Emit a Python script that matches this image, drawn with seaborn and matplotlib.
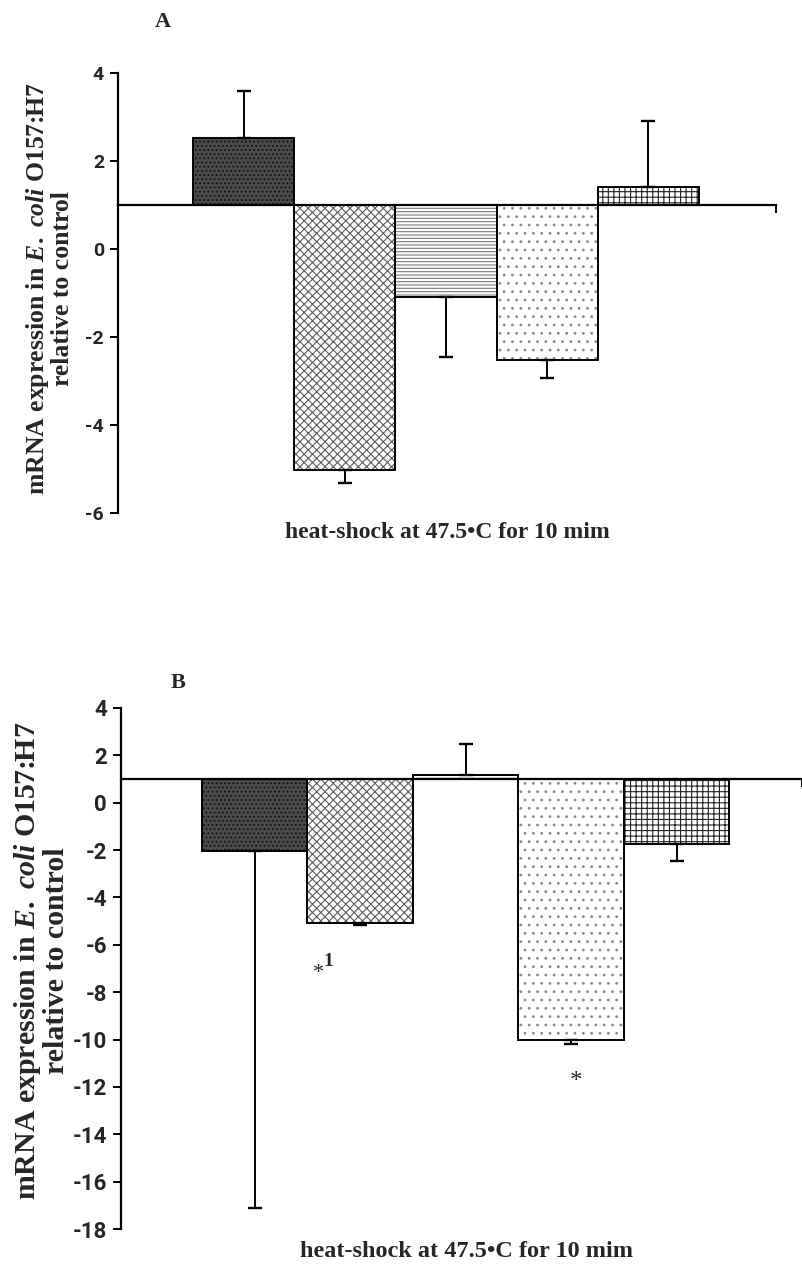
import numpy as np
import pandas as pd
import matplotlib
matplotlib.use("Agg")
import matplotlib.pyplot as plt
import seaborn as sns

# ---- data -------------------------------------------------------------
genes = ["Gene 1", "Gene 2", "Gene 3", "Gene 4", "Gene 5"]
baseline = 1.0

expr_a = [2.52, -5.02, -1.09, -2.52, 1.40]
err_a = [1.07, 0.30, 1.36, 0.41, 1.50]
yticks_a = [4, 2, 0, -2, -4, -6]

expr_b = [-2.03, -5.08, 1.15, -10.02, -1.73]
err_b = [15.10, 0.08, 1.31, 0.18, 0.72]
yticks_b = [4, 2, 0, -2, -4, -6, -8, -10, -12, -14, -16, -18]

# ---- styling ----------------------------------------------------------
face_colors = ["#4a4a4a", "#ffffff", "#ffffff", "#ffffff", "#ffffff"]
hatch_colors = ["#111111", "#5e5e5e", "#7a7a7a", "#8a8a8a", "#222222"]
hatches = ["....", "xxxx", "-----", "..", "+++"]

sns.set_theme(style="white")
plt.rcParams["hatch.linewidth"] = 0.8
plt.rcParams["font.family"] = ["Roboto", "DejaVu Sans"]
plt.rcParams["mathtext.fontset"] = "custom"
plt.rcParams["mathtext.rm"] = "Liberation Serif:bold"
plt.rcParams["mathtext.it"] = "Liberation Serif:italic:bold"
plt.rcParams["mathtext.bf"] = "Liberation Serif:bold"

SERIF = ["Liberation Serif", "DejaVu Serif"]
TICKFONT = ["Roboto", "DejaVu Sans"]

fig = plt.figure(figsize=(8.02, 12.66), dpi=100)
ax_a = fig.add_axes([118 / 802, 1 - 513 / 1266, 658 / 802, 440 / 1266])
ax_b = fig.add_axes([121 / 802, 1 - 1229 / 1266, 681 / 802, 521 / 1266])


def draw_panel(ax, values, errors, yticks, xlim, tick_size, label_size, xlabel_size):
    df = pd.DataFrame({"gene": genes, "value": values})
    df["height"] = df["value"] - baseline
    palette = dict(zip(genes, face_colors))

    # patterned fill
    sns.barplot(data=df, x="gene", y="height", hue="gene", palette=palette,
                saturation=1, width=1, bottom=baseline, errorbar=None,
                legend=False, ax=ax, zorder=2)
    for patch, h, hc in zip(ax.patches, hatches, hatch_colors):
        patch.set_hatch(h)
        patch.set_edgecolor(hc)
        patch.set_linewidth(0)

    # black outlines
    sns.barplot(data=df, x="gene", y="height", color="black", fill=False,
                width=1, bottom=baseline, errorbar=None, linewidth=1.4,
                ax=ax, zorder=3)

    # one-sided error bars pointing away from the baseline
    pos = np.arange(len(genes))
    vals = np.asarray(values)
    errs = np.asarray(errors)
    lower = np.where(vals < baseline, errs, 0)
    upper = np.where(vals >= baseline, errs, 0)
    ax.errorbar(pos, vals, yerr=[lower, upper], fmt="none", ecolor="black",
                elinewidth=1.4, capsize=5, capthick=1.7, zorder=4)

    ax.set_ylim(yticks[-1], yticks[0])
    ax.set_yticks(yticks)
    ax.set_yticklabels([str(t) for t in yticks], fontsize=tick_size,
                       fontweight="bold", family=TICKFONT)
    ax.set_xlim(*xlim)
    ax.set_xticks([xlim[1]])
    ax.set_xticklabels([""])
    ax.tick_params(axis="y", direction="out", length=6, width=1.4,
                   color="black", left=True, pad=4)
    ax.tick_params(axis="x", direction="out", length=6, width=1.4,
                   color="black", bottom=True)
    ax.spines["bottom"].set_position(("data", baseline))
    ax.spines["right"].set_visible(False)
    ax.spines["top"].set_visible(False)
    for s in ("left", "bottom"):
        ax.spines[s].set_color("black")
        ax.spines[s].set_linewidth(1.6)
    ax.set_ylabel("mRNA expression in $\\mathit{E.\\ coli}$ O157:H7\nrelative to control",
                  fontsize=label_size, fontweight="bold", family=SERIF,
                  multialignment="center", linespacing=1.0)
    ax.set_xlabel("heat-shock at 47.5\u2022C for 10 mim", fontsize=xlabel_size,
                  fontweight="bold", family=SERIF)
    ax.xaxis.label.set_va("center")
    ax.yaxis.label.set_va("center")


draw_panel(ax_a, expr_a, err_a, yticks_a, (-1.241, 5.261), 14, 18.5, 17)
ax_a.yaxis.set_label_coords(-0.105, 0.51)
ax_a.xaxis.set_label_coords(0.50, -0.045)

draw_panel(ax_b, expr_b, err_b, yticks_b, (-1.268, 5.19), 16, 21.5, 17.5)
ax_b.yaxis.set_label_coords(-0.118, 0.515)
ax_b.xaxis.set_label_coords(0.508, -0.044)

# significance marks in panel B
ax_b.text(1 - 0.4, -7.2, "*", ha="center", va="center", fontsize=16,
          family=SERIF)
ax_b.text(1 - 0.3, -6.7, "1", ha="center", va="center", fontsize=14,
          fontweight="bold", family=SERIF)
ax_b.text(3 + 0.05, -11.8, "*", ha="center", va="center", fontsize=18,
          family=SERIF)

fig.text(163 / 802, 1 - 22 / 1266, "A", ha="center", va="center",
         fontsize=16, fontweight="bold", family=SERIF)
fig.text(178 / 802, 1 - 683 / 1266, "B", ha="center", va="center",
         fontsize=16, fontweight="bold", family=SERIF)

fig.savefig("out.png", dpi=100)
